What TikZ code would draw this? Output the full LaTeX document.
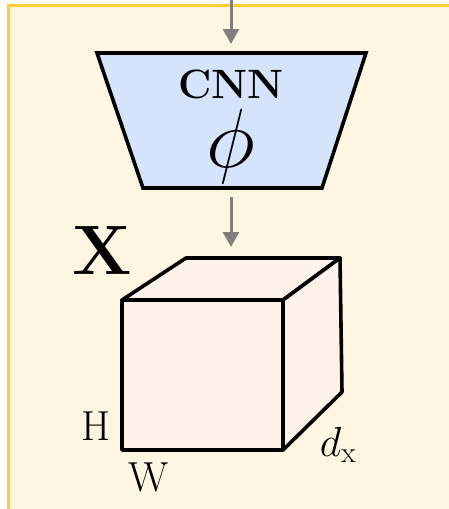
\RequirePackage{fix-cm}
\documentclass[tikz,border=0pt]{standalone}
\usetikzlibrary{arrows.meta}
\definecolor{panelbg}{HTML}{FEF6E0}
\definecolor{panelborder}{HTML}{FFCC33}
\definecolor{cnnblue}{HTML}{D5E4FB}
\definecolor{cubepink}{HTML}{FEF2EA}
\definecolor{arrowgrey}{HTML}{7F7F7F}
\begin{document}
\begin{tikzpicture}[x=1pt,y=-1pt,
  flow/.style={draw=arrowgrey,line width=3pt,-{Triangle[length=15pt,width=16pt]}},
  edge/.style={draw=black,line width=3.6pt,line join=round},
  lbl/.style={inner sep=0pt,font=\fontsize{42}{50}\selectfont}]
\useasboundingbox (0,0) rectangle (448,509);
\fill[white] (0,0) rectangle (448,509);
\fill[panelbg,draw=panelborder,line width=3pt] (8.5,5.5) rectangle (470,530);
% CNN trapezoid
\coordinate (in) at (231,-2);
\coordinate (cnnin) at (231,44);
\coordinate (cnnout) at (231,197);
\filldraw[fill=cnnblue,edge,line join=miter] (97,53) -- (366,53) -- (322,188) -- (143,188) -- cycle;
\node[lbl,font=\bfseries\fontsize{41}{48}\selectfont] (cnn) at (231,84) {CNN};
\node[inner sep=0pt,font=\fontsize{84}{90}\selectfont] (phi) at (231,146) {$\phi$};
\draw[flow] (in) -- (cnnin);
% cube
\coordinate (cubein) at (231,247);
\draw[flow] (cnnout) -- (cubein);
\filldraw[fill=cubepink,edge] (122,300) -- (186,258) -- (340,258) -- (283,300) -- cycle;
\filldraw[fill=cubepink,edge] (283,300) -- (340,258) -- (342,392) -- (283,450) -- cycle;
\filldraw[fill=cubepink,edge] (122,300) rectangle (283,450);
\node[inner sep=0pt,font=\bfseries\fontsize{70}{80}\selectfont] (X) at (102,250) {X};
\node[lbl] (H) at (96,426) {H};
\node[lbl] (W) at (149,477) {W};
\node[lbl] (dx) at (338,445) {$d_{\mathrm{x}}$};
\end{tikzpicture}
\end{document}
